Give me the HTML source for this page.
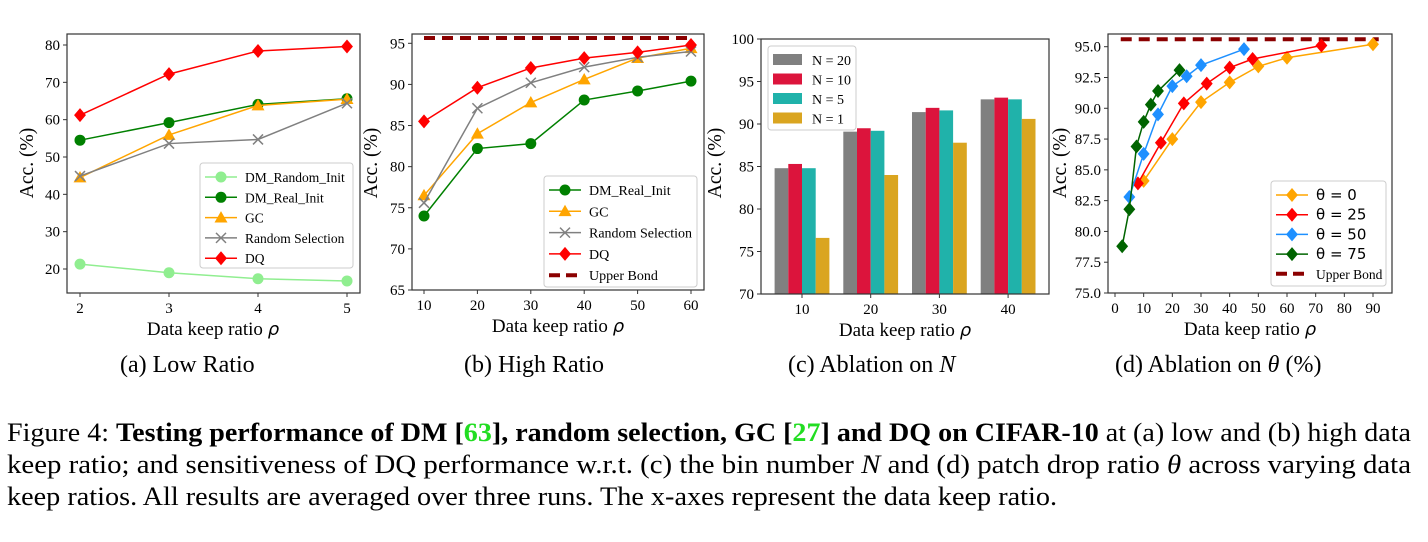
<!DOCTYPE html>
<html><head><meta charset="utf-8">
<style>
html,body{margin:0;padding:0;background:#fff;}
body{width:1428px;height:542px;position:relative;overflow:hidden;font-family:"Liberation Serif",serif;}
svg{position:absolute;left:0;top:0;}
.cap{position:absolute;font-size:24px;color:#000;white-space:nowrap;}
</style></head>
<body>
<svg id="fig" width="1428" height="542">
<g font-family="Liberation Serif, serif" font-size="26" fill="#000">
<text x="7" y="441" textLength="1404" lengthAdjust="spacingAndGlyphs">Figure 4: <tspan font-weight="bold">Testing performance of DM [<tspan fill="#22dd22">63</tspan>], random selection, GC [<tspan fill="#22dd22">27</tspan>] and DQ on CIFAR-10</tspan> at (a) low and (b) high data</text>
<text x="7" y="473" textLength="1404" lengthAdjust="spacingAndGlyphs">keep ratio; and sensitiveness of DQ performance w.r.t. (c) the bin number <tspan font-style="italic">N</tspan> and (d) patch drop ratio <tspan font-style="italic">θ</tspan> across varying data</text>
<text x="7" y="505" textLength="1050" lengthAdjust="spacingAndGlyphs">keep ratios. All results are averaged over three runs. The x-axes represent the data keep ratio.</text>
</g>
</svg>
<div class="cap" style="left:120px;top:352px;">(a) Low Ratio</div>
<div class="cap" style="left:464px;top:352px;">(b) High Ratio</div>
<div class="cap" style="left:788px;top:352px;">(c) Ablation on <i>N</i></div>
<div class="cap" style="left:1115px;top:352px;">(d) Ablation on <i>θ</i> (%)</div>
<script>
// Panel A data
const aX=[2,3,4,5];
const aDMRandom=[21.3,19.0,17.4,16.8];
const aDMReal=[54.5,59.2,64.1,65.6];
const aGC=[44.5,55.9,63.8,65.5];
const aRand=[44.9,53.6,54.7,64.4];
const aDQ=[61.2,72.2,78.4,79.6];
const aYTicks=[20,30,40,50,60,70,80];
// Panel B data
const bX=[10,20,30,40,50,60];
const bDMReal=[74.0,82.2,82.8,88.1,89.2,90.4];
const bGC=[76.5,84.0,87.8,90.6,93.2,94.4];
const bRand=[75.6,87.1,90.2,92.1,93.3,94.0];
const bDQ=[85.5,89.6,92.0,93.2,93.9,94.8];
const bUpper=95.65;
const bYTicks=[65,70,75,80,85,90,95];
// Panel C data
const cCats=[10,20,30,40];
const cN20=[84.8,89.1,91.4,92.9];
const cN10=[85.3,89.5,91.9,93.1];
const cN5=[84.8,89.2,91.6,92.9];
const cN1=[76.6,84.0,87.8,90.6];
const cYTicks=[70,75,80,85,90,95,100];
// Panel D data
const d0X=[10,20,30,40,50,60,90], d0Y=[84.1,87.5,90.5,92.1,93.4,94.1,95.2];
const d25X=[8,16,24,32,40,48,72], d25Y=[83.9,87.2,90.4,92.0,93.3,94.0,95.1];
const d50X=[5,10,15,20,25,30,45], d50Y=[82.8,86.3,89.5,91.8,92.6,93.5,94.8];
const d75X=[2.5,5,7.5,10,12.5,15,22.5], d75Y=[78.8,81.8,86.9,88.9,90.3,91.4,93.1];
const dUpper=95.6;
const dXTicks=[0,10,20,30,40,50,60,70,80,90];
const dYTicks=[75.0,77.5,80.0,82.5,85.0,87.5,90.0,92.5,95.0];

const NS="http://www.w3.org/2000/svg";
const svg=document.getElementById('fig');
function mk(tag,attrs,parent){const e=document.createElementNS(NS,tag);for(const k in attrs)e.setAttribute(k,attrs[k]);(parent||svg).appendChild(e);return e;}
function lin(d0,d1,r0,r1){return v=>r0+(v-d0)/(d1-d0)*(r1-r0);}
function txt(x,y,s,size,anchor,parent,name){const t=mk('text',{x:x,y:y,'font-size':size,'text-anchor':anchor||'middle','font-family':'Liberation Serif, serif',fill:'#000'},parent);t.textContent=s;return t;}

function frame(g,L,T,R,B,name){const r=mk('rect',{x:L,y:T,width:R-L,height:B-T,fill:'none',stroke:'#333','stroke-width':1.2},g);}
function yAxis(g,ticks,sy,L,fmt){ticks.forEach(v=>{const y=sy(v);mk('line',{x1:L-4,x2:L,y1:y,y2:y,stroke:'#333','stroke-width':1},g);txt(L-7,y+5,fmt?fmt(v):String(v),15,'end',g,'y-tick-label');});}
function xAxis(g,ticks,sx,B){ticks.forEach(v=>{const x=sx(v);mk('line',{x1:x,x2:x,y1:B,y2:B+4,stroke:'#333','stroke-width':1},g);txt(x,B+20,String(v),15,'middle',g,'x-tick-label');});}
function labels(g,cx,B,L,cy){const t=txt(cx,B+42,'Data keep ratio ',19,'middle',g,'x-axis-title');const ts=mk('tspan',{'font-style':'italic','font-family':'DejaVu Sans, sans-serif','font-size':18},t);ts.textContent='ρ';
 const yl=txt(0,0,'Acc. (%)',19.5,'middle',g,'y-axis-title');yl.setAttribute('transform',`translate(${L},${cy}) rotate(-90)`);}
function marker(g,type,x,y,color,s){
 if(type==='o'){mk('circle',{cx:x,cy:y,r:s||5.5,fill:color},g);}
 else if(type==='^'){const r=s||6.5;mk('polygon',{points:`${x},${y-r} ${x+r},${y+r*0.75} ${x-r},${y+r*0.75}`,fill:color},g);}
 else if(type==='x'){const r=s||5;mk('path',{d:`M${x-r},${y-r}L${x+r},${y+r}M${x-r},${y+r}L${x+r},${y-r}`,stroke:color,'stroke-width':1.5},g);}
 else if(type==='D'){const r=s||7;mk('polygon',{points:`${x},${y-r} ${x+r*0.85},${y} ${x},${y+r} ${x-r*0.85},${y}`,fill:color},g);}
}
function series(g,xs,ys,sx,sy,color,type,name){const sg=mk('g',{},g);
 mk('polyline',{points:xs.map((x,i)=>sx(x)+','+sy(ys[i])).join(' '),fill:'none',stroke:color,'stroke-width':1.5},sg);
 xs.forEach((x,i)=>marker(sg,type,sx(x),sy(ys[i]),color));}
function upper(g,x0,x1,y){const l=mk('line',{x1:x0,x2:x1,y1:y,y2:y,stroke:'#8b0000','stroke-width':4,'stroke-dasharray':'11 7'},g);}
function legend(g,x,y,w,h,items,rowH,name){const lg=mk('g',{},g);
 mk('rect',{x:x,y:y,width:w,height:h,rx:3,fill:'#fff',stroke:'#ccc','stroke-width':1},lg);
 items.forEach((it,i)=>{const cy=y+14+i*rowH;const e=mk('g',{},lg);
  if(it.bar){mk('rect',{x:x+5,y:cy-6,width:29,height:11,fill:it.color},e);}
  else if(it.dash){mk('line',{x1:x+5,x2:x+37,y1:cy,y2:cy,stroke:it.color,'stroke-width':4,'stroke-dasharray':'11 6'},e);}
  else {mk('line',{x1:x+5,x2:x+37,y1:cy,y2:cy,stroke:it.color,'stroke-width':1.5},e);marker(e,it.m,x+21,cy,it.color);}
  const t=txt(x+(it.bar?44:45),cy+5,it.label,it.size||14,'start',e,'legend-label');if(it.sans)t.setAttribute('font-family','DejaVu Sans, sans-serif');});}

// ---- Panel A
{const g=mk('g',{});
 const L=67,T=34,R=360,B=293;const sx=lin(2,5,80,347),sy=lin(20,80,269,45);
 frame(g,L,T,R,B,'panel-a-frame');yAxis(g,aYTicks,sy,L);xAxis(g,aX,sx,B);labels(g,213,B,33,163);
 series(g,aX,aDMRandom,sx,sy,'#90ee90','o','series-dm-random-init');
 series(g,aX,aDMReal,sx,sy,'#008000','o','series-dm-real-init');
 series(g,aX,aGC,sx,sy,'#ffa500','^','series-gc');
 series(g,aX,aRand,sx,sy,'#808080','x','series-random-selection');
 series(g,aX,aDQ,sx,sy,'#ff0000','D','series-dq');
 legend(g,200,163,153,105,[{label:'DM_Random_Init',color:'#90ee90',m:'o',size:13.5},{label:'DM_Real_Init',color:'#008000',m:'o',size:13.5},{label:'GC',color:'#ffa500',m:'^',size:13.5},{label:'Random Selection',color:'#808080',m:'x',size:13.5},{label:'DQ',color:'#ff0000',m:'D',size:13.5}],20.3,'legend-a');}
// ---- Panel B
{const g=mk('g',{});
 const L=412,T=34,R=704,B=290;const sx=lin(10,60,424,691),sy=lin(65,95,290,43.3);
 frame(g,L,T,R,B,'panel-b-frame');yAxis(g,bYTicks,sy,L);xAxis(g,bX,sx,B);labels(g,558,B,377,163);
 upper(g,sx(10),sx(60),sy(bUpper));
 series(g,bX,bDMReal,sx,sy,'#008000','o','series-dm-real-init');
 series(g,bX,bGC,sx,sy,'#ffa500','^','series-gc');
 series(g,bX,bRand,sx,sy,'#808080','x','series-random-selection');
 series(g,bX,bDQ,sx,sy,'#ff0000','D','series-dq');
 legend(g,544,176,153,111,[{label:'DM_Real_Init',color:'#008000',m:'o'},{label:'GC',color:'#ffa500',m:'^'},{label:'Random Selection',color:'#808080',m:'x'},{label:'DQ',color:'#ff0000',m:'D'},{label:'Upper Bond',color:'#8b0000',dash:true}],21.3,'legend-b');}
// ---- Panel C
{const g=mk('g',{});
 const L=761,T=39,R=1049,B=294;const sy=lin(70,100,294,39);
 const cx=i=>802+i*68.7;const bw=13.7;
 const sets=[[cN20,'#808080','n20'],[cN10,'#dc143c','n10'],[cN5,'#20b2aa','n5'],[cN1,'#daa520','n1']];
 cCats.forEach((c,i)=>{sets.forEach((s,j)=>{const x=cx(i)+(j-2)*bw;const y=sy(s[0][i]);const r=mk('rect',{x:x,y:y,width:bw,height:B-y,fill:s[1]},g);});});
 frame(g,L,T,R,B,'panel-c-frame');yAxis(g,cYTicks,sy,L);
 cCats.forEach((c,i)=>{const x=cx(i);mk('line',{x1:x,x2:x,y1:B,y2:B+4,stroke:'#333'},g);txt(x,B+20,String(c),15,'middle',g,'x-tick-label');});
 labels(g,905,B,721,163);
 legend(g,768,46,88,84,[{label:'N = 20',color:'#808080',bar:true},{label:'N = 10',color:'#dc143c',bar:true},{label:'N = 5',color:'#20b2aa',bar:true},{label:'N = 1',color:'#daa520',bar:true}],19.5,'legend-c');}
// ---- Panel D
{const g=mk('g',{});
 const L=1108,T=34,R=1392,B=293;const sx=lin(0,90,1115,1373),sy=lin(75,95,293,46.7);
 frame(g,L,T,R,B,'panel-d-frame');yAxis(g,dYTicks,sy,L,v=>v.toFixed(1));xAxis(g,dXTicks,sx,B);labels(g,1250,B,1066,163);
 upper(g,sx(2),sx(92),sy(dUpper));
 series(g,d0X,d0Y,sx,sy,'#ffa500','D','series-theta-0');
 series(g,d25X,d25Y,sx,sy,'#ff0000','D','series-theta-25');
 series(g,d50X,d50Y,sx,sy,'#1e90ff','D','series-theta-50');
 series(g,d75X,d75Y,sx,sy,'#006400','D','series-theta-75');
 legend(g,1271,181,115,105,[{label:'θ = 0',color:'#ffa500',m:'D',sans:true,size:15},{label:'θ = 25',color:'#ff0000',m:'D',sans:true,size:15},{label:'θ = 50',color:'#1e90ff',m:'D',sans:true,size:15},{label:'θ = 75',color:'#006400',m:'D',sans:true,size:15},{label:'Upper Bond',color:'#8b0000',dash:true,size:13.5}],19.7,'legend-d');}
</script>
</body></html>
